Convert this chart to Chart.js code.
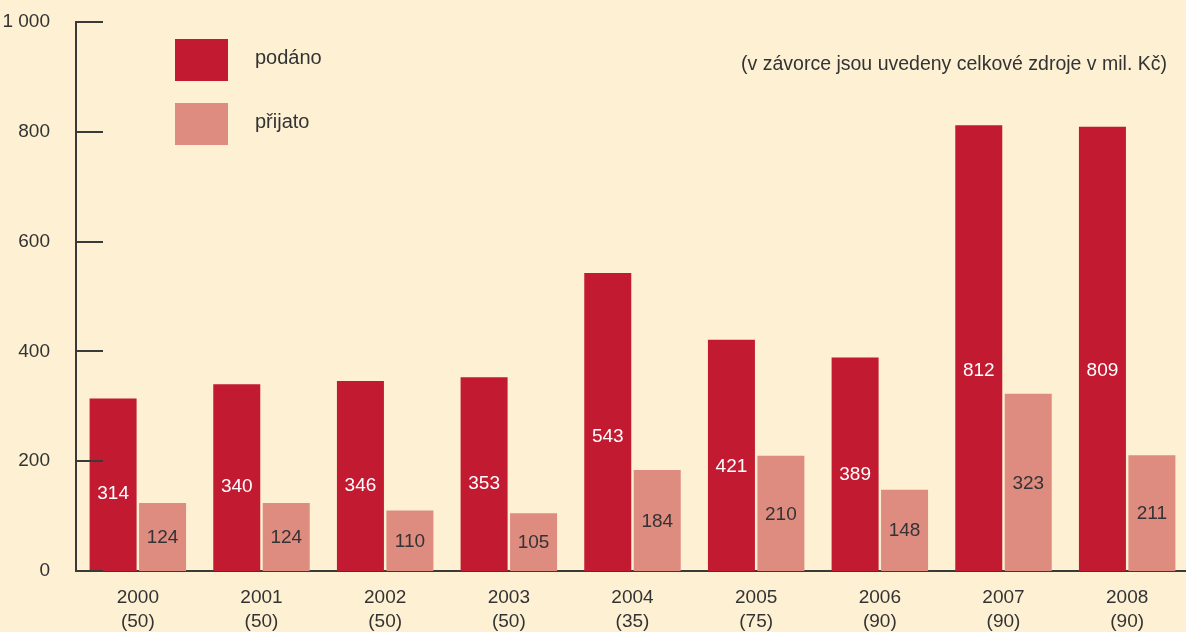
<!DOCTYPE html>
<html>
<head>
<meta charset="utf-8">
<script src="https://cdn.jsdelivr.net/npm/chart.js@4.4.1/dist/chart.umd.min.js"></script>
<style>
  html, body { margin: 0; padding: 0; background: #fdf0d3; overflow: hidden; }
  #wrap { width: 1192px; height: 632px; }
</style>
</head>
<body>
<div id="wrap"><canvas id="chart"></canvas></div>
<script>
// data
const years = ['2000', '2001', '2002', '2003', '2004', '2005', '2006', '2007', '2008'];
const totalResources = [50, 50, 50, 50, 35, 75, 90, 90, 90];
const submitted = [314, 340, 346, 353, 543, 421, 389, 812, 809];
const accepted = [124, 124, 110, 105, 184, 210, 148, 323, 211];
const yTicks = [0, 200, 400, 600, 800, 1000];
const seriesNames = ['podáno', 'přijato'];
const noteText = '(v závorce jsou uvedeny celkové zdroje v mil. Kč)';

const textColor = '#333333';
const axisColor = '#3a3a3a';
const fontFamily = '"Liberation Sans", Arial, Helvetica, sans-serif';
const colors = ['#c11a31', '#de8b80'];

function formatThousands(v) {
    return String(v).replace(/\B(?=(\d{3})+(?!\d))/g, ' ');
}

// short tick marks inside the plot area, next to the y axis
const yTickMarks = {
    id: 'yTickMarks',
    afterDatasetsDraw(chart) {
        const ctx = chart.ctx;
        const y = chart.scales.y;
        const left = chart.chartArea.left;
        ctx.save();
        ctx.strokeStyle = axisColor;
        ctx.lineWidth = 2;
        yTicks.forEach(t => {
            const py = Math.round(y.getPixelForValue(t));
            ctx.beginPath();
            ctx.moveTo(left, py);
            ctx.lineTo(left + 27, py);
            ctx.stroke();
        });
        ctx.restore();
    }
};

// value labels inside the bars
const barLabels = {
    id: 'barLabels',
    afterDatasetsDraw(chart) {
        const ctx = chart.ctx;
        ctx.save();
        ctx.font = '19px ' + fontFamily;
        ctx.textAlign = 'center';
        ctx.textBaseline = 'middle';
        chart.data.datasets.forEach((ds, di) => {
            const meta = chart.getDatasetMeta(di);
            const frac = di === 0 ? 0.45 : 0.49;
            ctx.fillStyle = di === 0 ? '#ffffff' : textColor;
            meta.data.forEach((bar, i) => {
                const ly = bar.base + (bar.y - bar.base) * frac;
                ctx.fillText(String(ds.data[i]), bar.x, ly);
            });
        });
        ctx.restore();
    }
};

// legend boxes and note
const legendAndNote = {
    id: 'legendAndNote',
    afterDraw(chart) {
        const ctx = chart.ctx;
        ctx.save();
        ctx.font = '20px ' + fontFamily;
        ctx.textBaseline = 'middle';
        chart.data.datasets.forEach((ds, di) => {
            const top = 39 + di * 64;
            ctx.fillStyle = ds.backgroundColor;
            ctx.fillRect(175, top, 53, 42);
            ctx.fillStyle = textColor;
            ctx.textAlign = 'left';
            ctx.fillText(ds.label, 255, top + 19);
        });
        ctx.font = '19.5px ' + fontFamily;
        ctx.textAlign = 'right';
        ctx.fillText(noteText, 1167, 65);
        ctx.restore();
    }
};

new Chart(document.getElementById('chart'), {
    type: 'bar',
    data: {
        labels: years.map((y, i) => [y, '(' + totalResources[i] + ')']),
        datasets: [
            { label: seriesNames[0], data: submitted, backgroundColor: colors[0] },
            { label: seriesNames[1], data: accepted, backgroundColor: colors[1] }
        ]
    },
    options: {
        responsive: true,
        maintainAspectRatio: false,
        animation: false,
        layout: { padding: { top: 22, right: 3 } },
        datasets: {
            bar: { categoryPercentage: 0.80, barPercentage: 0.95 }
        },
        plugins: {
            legend: { display: false },
            tooltip: { enabled: false }
        },
        scales: {
            x: {
                grid: { display: false },
                border: { display: true, color: axisColor, width: 2 },
                ticks: {
                    color: textColor,
                    font: { family: fontFamily, size: 19, lineHeight: 1.25 },
                    padding: 7,
                    maxRotation: 0
                },
                afterFit: s => { s.height = 61; }
            },
            y: {
                min: 0,
                max: 1000,
                grid: { display: false },
                border: { display: true, color: axisColor, width: 2 },
                afterBuildTicks: s => { s.ticks = yTicks.map(v => ({ value: v })); },
                ticks: {
                    color: textColor,
                    font: { family: fontFamily, size: 19 },
                    padding: 18,
                    callback: v => formatThousands(v)
                },
                afterFit: s => {
                    s.width = 76;
                    s.paddingTop = 0;
                    s.paddingBottom = 0;
                }
            }
        }
    },
    plugins: [yTickMarks, barLabels, legendAndNote]
});
</script>
</body>
</html>
